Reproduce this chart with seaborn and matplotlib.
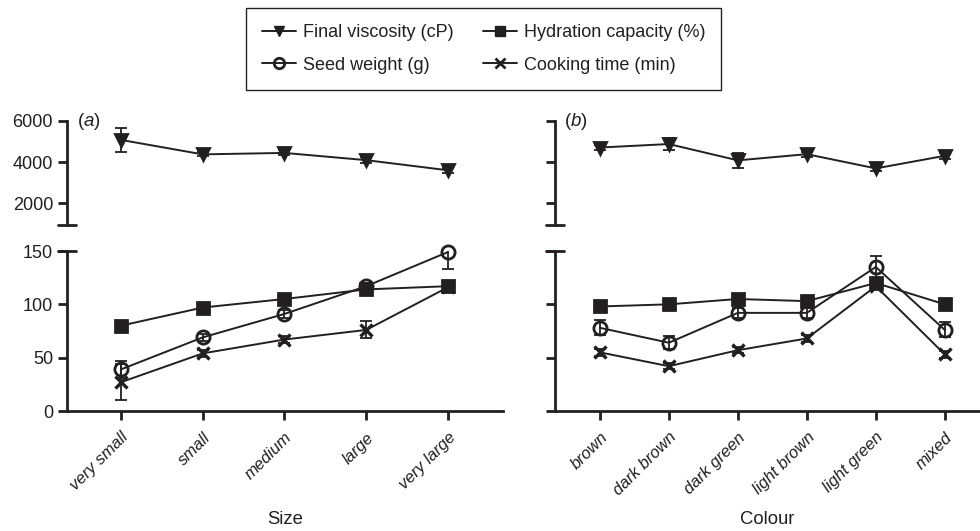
import matplotlib
matplotlib.use('Agg')
import matplotlib.pyplot as plt
import seaborn as sns
from matplotlib.lines import Line2D
from matplotlib.patches import Rectangle

# ---------------- data ----------------
sizes = ["very small", "small", "medium", "large", "very large"]
colours = ["brown", "dark brown", "dark green", "light brown", "light green", "mixed"]

size_fv = [5070, 4370, 4440, 4090, 3600]
size_fv_err = [600, 100, 120, 150, 120]
size_hc = [80, 97, 105, 114, 117]
size_hc_err = [3, 3, 3, 3, 3]
size_sw = [39, 69, 91, 117, 149]
size_sw_err = [8, 3, 4, 3, 16]
size_ct = [27, 54, 67, 76, 116]
size_ct_err = [17, 3, 3, 8, 3]

col_fv = [4700, 4870, 4080, 4380, 3690, 4300]
col_fv_err = [100, 300, 350, 120, 120, 150]
col_hc = [98, 100, 105, 103, 120, 100]
col_hc_err = [3, 3, 3, 3, 3, 3]
col_sw = [78, 64, 92, 92, 135, 76]
col_sw_err = [7, 6, 5, 5, 10, 7]
col_ct = [55, 42, 57, 68, 117, 53]
col_ct_err = [3, 3, 3, 3, 3, 3]

series_names = ["Final viscosity (cP)", "Hydration capacity (%)",
                "Seed weight (g)", "Cooking time (min)"]

# ---------------- style ----------------
sns.set_style("ticks")
INK = "#231f20"
plt.rcParams['font.family'] = ['Liberation Sans', 'DejaVu Sans']
plt.rcParams['mathtext.fontset'] = 'custom'
plt.rcParams['mathtext.it'] = 'Liberation Sans:italic'
plt.rcParams['mathtext.rm'] = 'Liberation Sans'
plt.rcParams['text.color'] = INK
plt.rcParams['axes.edgecolor'] = INK
plt.rcParams['xtick.color'] = INK
plt.rcParams['ytick.color'] = INK

FS = 13.0
W, H = 980, 531
fig = plt.figure(figsize=(W / 100, H / 100), dpi=100)


def frac(x0, y0, x1, y1):
    return [x0 / W, 1 - y1 / H, (x1 - x0) / W, (y1 - y0) / H]


panels = [
    dict(cats=sizes, x0=67, x1=502.7, xlim=(-0.66, 4.67), label="Size", tag="a",
         fv=(size_fv, size_fv_err), hc=(size_hc, size_hc_err),
         sw=(size_sw, size_sw_err), ct=(size_ct, size_ct_err), show_y=True),
    dict(cats=colours, x0=555, x1=980, xlim=(-0.65, 5.51), label="Colour", tag="b",
         fv=(col_fv, col_fv_err), hc=(col_hc, col_hc_err),
         sw=(col_sw, col_sw_err), ct=(col_ct, col_ct_err), show_y=False),
]

styles = {
    "fv": dict(marker="v", ms=9, mfc=INK),
    "hc": dict(marker="s", ms=8, mfc=INK),
    "sw": dict(marker="o", ms=9.5, mfc="none"),
    "ct": dict(marker="x", ms=8, mfc=INK),
}

TOP_Y0, TOP_Y1 = 120.7, 225
BOT_Y0, BOT_Y1 = 251, 411

for p in panels:
    ax_t = fig.add_axes(frac(p["x0"], TOP_Y0, p["x1"], TOP_Y1))
    ax_b = fig.add_axes(frac(p["x0"], BOT_Y0, p["x1"], BOT_Y1))
    cats = p["cats"]

    def draw(ax, key):
        vals, errs = p[key]
        st = styles[key]
        ax.errorbar(cats, vals, yerr=errs, fmt="none", ecolor=INK,
                    elinewidth=1.3, capsize=4.5, capthick=1.3, zorder=2)
        sns.lineplot(x=cats, y=vals, ax=ax, color=INK, lw=1.4,
                     marker=st["marker"], markersize=st["ms"],
                     markerfacecolor=st["mfc"], markeredgecolor=INK,
                     markeredgewidth=2.0 if key != "ct" else 2.4,
                     clip_on=False, zorder=3)

    draw(ax_t, "fv")
    for k in ["hc", "sw", "ct"]:
        draw(ax_b, k)

    for ax in (ax_t, ax_b):
        ax.set_xlim(*p["xlim"])
        ax.set_xlabel("")
        ax.set_ylabel("")
        for s in ["top", "right"]:
            ax.spines[s].set_visible(False)
        ax.spines["left"].set_linewidth(2.0)
        ax.spines["bottom"].set_linewidth(2.0)
        ax.tick_params(axis="y", length=6.5, width=2.0, labelsize=FS, pad=3.5)
        ax.tick_params(axis="x", length=6.5, width=2.0, labelsize=FS, pad=7)
        ax.set_facecolor("none")

    ax_t.set_ylim(950, 6000)
    ax_t.set_yticks([2000, 4000, 6000])
    ax_t.spines["bottom"].set_visible(False)
    ax_t.tick_params(axis="x", bottom=False, labelbottom=False)

    ax_b.set_ylim(0, 150)
    ax_b.set_yticks([0, 50, 100, 150])
    ax_b.set_xticks(range(len(cats)))
    ax_b.set_xticklabels(cats, rotation=45, ha="right", rotation_mode="anchor",
                         fontstyle="italic", fontsize=FS - 1.0)

    if not p["show_y"]:
        ax_t.tick_params(axis="y", labelleft=False)
        ax_b.tick_params(axis="y", labelleft=False)

    # axis break marks
    xs = p["x0"]
    for yy in (TOP_Y1, BOT_Y0):
        fig.add_artist(Line2D([(xs - 9) / W, (xs + 8.5) / W], [1 - yy / H, 1 - yy / H],
                              transform=fig.transFigure, color=INK, lw=2.0))

    ax_t.text(0.022, 0.99, r"($\mathit{" + p["tag"] + r"}$)", transform=ax_t.transAxes,
              ha="left", va="center", fontsize=FS + 0.5)
    ax_b.text(0.5, -0.68, p["label"], transform=ax_b.transAxes,
              ha="center", va="center", fontsize=FS + 0.3)

# legend
handles = [
    Line2D([], [], color=INK, lw=1.4, marker="v", ms=7, mfc=INK, mec=INK),
    Line2D([], [], color=INK, lw=1.4, marker="o", ms=7.5, mfc="none", mec=INK, mew=2),
    Line2D([], [], color=INK, lw=1.4, marker="s", ms=6.5, mfc=INK, mec=INK),
    Line2D([], [], color=INK, lw=1.4, marker="x", ms=7, mfc=INK, mec=INK, mew=2),
]
labels = [series_names[0], series_names[2], series_names[1], series_names[3]]
leg = fig.legend(handles, labels, ncol=2, loc="center",
                 bbox_to_anchor=(484 / W, 1 - 49 / H),
                 fontsize=FS, frameon=False,
                 handlelength=1.85, handletextpad=0.4, columnspacing=1.65,
                 labelspacing=0.85, borderpad=0, borderaxespad=0)
fig.add_artist(Rectangle((245.5 / W, 1 - 90 / H), (721 - 245.5) / W, 82 / H,
                         transform=fig.transFigure, fill=False, ec=INK, lw=1.0))

fig.savefig("out.png", dpi=100)
